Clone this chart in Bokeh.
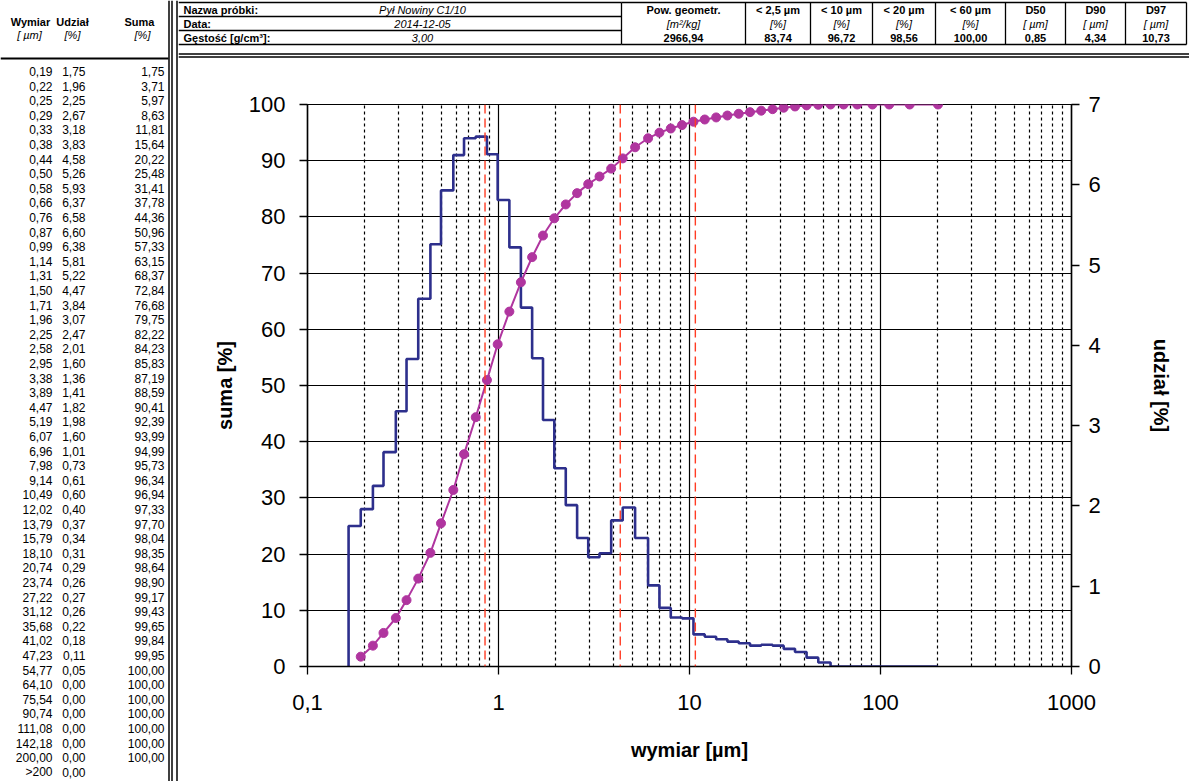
from bokeh.plotting import figure
from bokeh.models import Range1d, LinearAxis, FixedTicker, Span, CustomJSTickFormatter
from bokeh.layouts import row, column
from bokeh.core.properties import value
from bokeh.embed import file_html
from bokeh.resources import INLINE

# ---------------- data ----------------
wymiar = [0.19, 0.22, 0.25, 0.29, 0.33, 0.38, 0.44, 0.50, 0.58, 0.66, 0.76, 0.87, 0.99,
          1.14, 1.31, 1.50, 1.71, 1.96, 2.25, 2.58, 2.95, 3.38, 3.89, 4.47, 5.19, 6.07,
          6.96, 7.98, 9.14, 10.49, 12.02, 13.79, 15.79, 18.10, 20.74, 23.74, 27.22,
          31.12, 35.68, 41.02, 47.23, 54.77, 64.10, 75.54, 90.74, 111.08, 142.18, 200.00]
udzial = [1.75, 1.96, 2.25, 2.67, 3.18, 3.83, 4.58, 5.26, 5.93, 6.37, 6.58, 6.60, 6.38,
          5.81, 5.22, 4.47, 3.84, 3.07, 2.47, 2.01, 1.60, 1.36, 1.41, 1.82, 1.98, 1.60,
          1.01, 0.73, 0.61, 0.60, 0.40, 0.37, 0.34, 0.31, 0.29, 0.26, 0.27, 0.26, 0.22,
          0.18, 0.11, 0.05, 0.00, 0.00, 0.00, 0.00, 0.00, 0.00]
udzial_over = 0.00  # ">200" row
suma = [1.75, 3.71, 5.97, 8.63, 11.81, 15.64, 20.22, 25.48, 31.41, 37.78, 44.36, 50.96,
        57.33, 63.15, 68.37, 72.84, 76.68, 79.75, 82.22, 84.23, 85.83, 87.19, 88.59,
        90.41, 92.39, 93.99, 94.99, 95.73, 96.34, 96.94, 97.33, 97.70, 98.04, 98.35,
        98.64, 98.90, 99.17, 99.43, 99.65, 99.84, 99.95, 100.00, 100.00, 100.00, 100.00,
        100.00, 100.00, 100.00]

sample_labels = ["Nazwa próbki:", "Data:", "Gęstość [g/cm³]:"]
sample_values = ["Pył Nowiny C1/10", "2014-12-05", "3,00"]
param_names = ["Pow. geometr.", "< 2,5 µm", "< 10 µm", "< 20 µm", "< 60 µm", "D50", "D90", "D97"]
param_units = ["[m²/kg]", "[%]", "[%]", "[%]", "[%]", "[ µm]", "[ µm]", "[ µm]"]
param_values = [2966.94, 83.74, 96.72, 98.56, 100.00, 0.85, 4.34, 10.73]
D50, D90, D97 = param_values[5], param_values[6], param_values[7]

x_ticks = [0.1, 1, 10, 100, 1000]
y_ticks = [0, 10, 20, 30, 40, 50, 60, 70, 80, 90, 100]
y2_ticks = [0, 1, 2, 3, 4, 5, 6, 7]

FONT = value("Liberation Sans")


def fmt(v):
    return f"{v:.2f}".replace(".", ",")


def blank(fig):
    fig.grid.visible = False
    fig.outline_line_color = None
    fig.background_fill_color = "white"
    fig.border_fill_color = "white"


# ---------------- left table ----------------
L = figure(width=178, height=781, x_range=Range1d(0, 178), y_range=Range1d(781, 0),
           output_backend="svg", toolbar_location=None, min_border=0,
           x_axis_location=None, y_axis_location=None)
blank(L)

L.text(x=[30, 72, 139], y=[21, 21, 21], text=["Wymiar", "Udział", "Suma"],
       text_align="center", text_baseline="middle", text_font=FONT,
       text_font_size="11px", text_font_style="bold", text_color="black")
L.text(x=[29, 72, 142], y=[34, 34, 34], text=["[ µm]", "[%]", "[%]"],
       text_align="center", text_baseline="middle", text_font=FONT,
       text_font_size="11px", text_font_style="italic", text_color="black")

w_txt = [fmt(v) for v in wymiar] + [">200"]
u_txt = [fmt(v) for v in udzial] + [fmt(udzial_over)]
s_txt = [fmt(v) for v in suma] + [""]
ry = [71 + i * 14.6 for i in range(len(w_txt))]
for xx, col in ((52, w_txt), (85, u_txt), (164, s_txt)):
    L.text(x=[xx] * len(col), y=ry, text=col, text_align="right", text_baseline="middle",
           text_font=FONT, text_font_size="12px", text_color="black")

L.segment(x0=[0], y0=[58], x1=[168], y1=[58], line_color="black", line_width=2)
L.segment(x0=[168.5, 171.5, 176.5], y0=[0, 0, 0], x1=[168.5, 171.5, 176.5], y1=[781, 781, 781],
          line_color="black", line_width=1.5)

# ---------------- top table ----------------
T = figure(width=1011, height=58, x_range=Range1d(178, 1189), y_range=Range1d(58, 0),
           output_backend="svg", toolbar_location=None, min_border=0,
           x_axis_location=None, y_axis_location=None)
blank(T)

row_lines = [2, 16, 30, 44]
row_mid = [9.5, 23.5, 37.5]
T.text(x=[183] * 3, y=row_mid, text=sample_labels, text_align="left", text_baseline="middle",
       text_font=FONT, text_font_size="11px", text_font_style="bold", text_color="black")
T.text(x=[422] * 3, y=row_mid, text=sample_values, text_align="center", text_baseline="middle",
       text_font=FONT, text_font_size="11px", text_font_style="italic", text_color="black")

col_edges = [621, 745, 810, 872, 935, 1005, 1065, 1125, 1186]
centers = [(col_edges[i] + col_edges[i + 1]) / 2 for i in range(len(param_names))]
T.text(x=centers, y=[row_mid[0]] * 8, text=param_names, text_align="center", text_baseline="middle",
       text_font=FONT, text_font_size="11px", text_font_style="bold", text_color="black")
T.text(x=centers, y=[row_mid[1]] * 8, text=param_units, text_align="center", text_baseline="middle",
       text_font=FONT, text_font_size="11px", text_font_style="italic", text_color="black")
T.text(x=centers, y=[row_mid[2]] * 8, text=[fmt(v) for v in param_values], text_align="center",
       text_baseline="middle", text_font=FONT, text_font_size="11px", text_font_style="bold",
       text_color="black")

T.segment(x0=[178] * 4, y0=row_lines, x1=[621] * 4, y1=row_lines, line_color="black", line_width=1.3)
T.segment(x0=[621, 621], y0=[row_lines[0], row_lines[-1]], x1=[1186, 1186],
          y1=[row_lines[0], row_lines[-1]], line_color="black", line_width=1.3)
T.segment(x0=col_edges, y0=[row_lines[0]] * len(col_edges), x1=col_edges,
          y1=[row_lines[-1]] * len(col_edges), line_color="black", line_width=1.3)
T.segment(x0=[178, 178], y0=[53.5, 56.5], x1=[1189, 1189], y1=[53.5, 56.5],
          line_color="black", line_width=1.3)

# ---------------- chart ----------------
C = figure(width=1011, height=723, x_axis_type="log", x_range=Range1d(0.1, 1000),
           y_range=Range1d(0, 100), output_backend="svg", toolbar_location=None,
           min_border_left=129, min_border_right=118, min_border_top=46, min_border_bottom=115)
C.background_fill_color = "white"
C.border_fill_color = "white"
C.outline_line_color = "black"
C.outline_line_width = 1.2
C.extra_y_ranges = {"udz": Range1d(0, 7)}

minor = [k * d for d in (0.1, 1, 10, 100) for k in range(2, 10)]
C.xgrid.ticker = FixedTicker(ticks=x_ticks, minor_ticks=minor)
C.xgrid.grid_line_color = "black"
C.xgrid.grid_line_width = 1.2
C.xgrid.minor_grid_line_color = "black"
C.xgrid.minor_grid_line_width = 1.2
C.xgrid.minor_grid_line_dash = "3 3"
C.ygrid.ticker = FixedTicker(ticks=y_ticks)
C.ygrid.grid_line_color = "black"
C.ygrid.grid_line_width = 1.2


def style_axis(ax, label_txt, tick_standoff, label_standoff):
    ax.axis_label = label_txt
    ax.axis_label_text_font = "Liberation Sans"
    ax.axis_label_text_font_size = "20px"
    ax.axis_label_text_font_style = "bold"
    ax.axis_label_text_color = "black"
    ax.axis_label_standoff = label_standoff
    ax.major_label_text_font = "Liberation Sans"
    ax.major_label_text_font_size = "22px"
    ax.major_label_text_color = "black"
    ax.major_label_standoff = tick_standoff
    ax.major_tick_in = 0
    ax.major_tick_out = 8
    ax.major_tick_line_color = "black"
    ax.major_tick_line_width = 1.3
    ax.minor_tick_line_color = None
    ax.axis_line_color = "black"
    ax.axis_line_width = 1.5


xa = C.xaxis[0]
xa.ticker = FixedTicker(ticks=x_ticks, minor_ticks=[])
xa.formatter = CustomJSTickFormatter(code="return tick.toString().replace('.', ',')")
style_axis(xa, "wymiar [µm]", 20, 26)

ya = C.yaxis[0]
ya.ticker = FixedTicker(ticks=y_ticks)
style_axis(ya, "suma [%]", 14, 10)

ya2 = LinearAxis(y_range_name="udz", ticker=FixedTicker(ticks=y2_ticks))
style_axis(ya2, "udział [%]", 9, 46)
C.add_layout(ya2, "right")

# histogram (udział) as step line on secondary axis
edges = [wymiar[0] ** 2 / wymiar[1]] + wymiar
hx = [edges[0]]
hy = [0]
for i, u in enumerate(udzial):
    hx += [edges[i], edges[i + 1]]
    hy += [u, u]
C.line(hx, hy, y_range_name="udz", line_color="#2D2F8C", line_width=2.6)

# cumulative (suma)
MAG = "#B0359F"
C.line(wymiar, suma, line_color=MAG, line_width=2)
C.scatter(wymiar, suma, size=9, fill_color=MAG, line_color=MAG)

for d in (D50, D90, D97):
    C.add_layout(Span(location=d, dimension="height", line_color="#FF3C24",
                      line_dash="9 5", line_width=1.4))

layout = row(L, column(row(T), row(C)), spacing=0)
open("out.html", "w").write(file_html(layout, INLINE))
